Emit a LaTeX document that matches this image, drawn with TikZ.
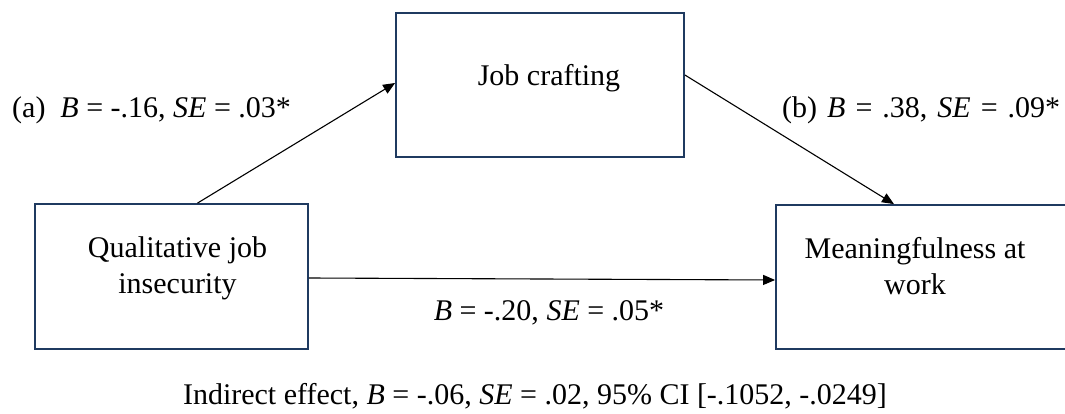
\documentclass[tikz,border=0pt]{standalone}
\usepackage{fontspec}
\setmainfont{Liberation Serif}
\usetikzlibrary{arrows.meta}
\definecolor{boxblue}{HTML}{1F3A60}

\begin{document}
\begin{tikzpicture}[x=1pt, y=-1pt, >={Triangle[length=12pt,width=10pt]},
  box/.style={draw=boxblue, line width=1.8pt, inner sep=0pt},
  boxtext/.style={inner sep=0pt, align=center, font=\fontsize{30}{36}\selectfont},
  coef/.style={inner sep=0pt, font=\fontsize{30}{36}\selectfont}]
  \useasboundingbox (0,0) rectangle (1065,414);
  \clip (0,0) rectangle (1065,414);
  % variables
  \node[box, minimum width=288pt, minimum height=144pt,
    label={[boxtext, xshift=9pt, yshift=7pt]center:Job crafting}] (jc) at (540,85) {};
  \node[box, minimum width=273pt, minimum height=145pt,
    label={[boxtext, xshift=6pt, yshift=8pt]center:{Qualitative job\\insecurity}}] (qji) at (171.5,276.5) {};
  \node[box, minimum width=300pt, minimum height=144pt,
    label={[boxtext, xshift=-11pt, yshift=11pt]center:{Meaningfulness at\\work}}] (maw) at (926,277) {};
  % paths a, b and c'
  \draw[->, line width=1.1pt] ([xshift=26pt]qji.north) -- ([yshift=2pt]jc.west);
  \draw[->, line width=1.1pt] ([yshift=10pt]jc.east) -- ([xshift=-32pt]maw.north);
  \draw[->, line width=1.1pt] ([yshift=-1.5pt]qji.east) -- ([yshift=-3pt]maw.west);
  % coefficients
  \node[coef, anchor=base west] (coefa) at (12,118) {(a)\ \ \textit{B} = -.16, \textit{SE} = .03*};
  \node[coef, anchor=base west] (coefb) at (782,118) {\spaceskip=10pt (b) \textit{B} = .38, \textit{SE} = .09*};
  \node[coef, anchor=base] (coefc) at (549,320) {\textit{B} = -.20, \textit{SE} = .05*};
  \node[coef, anchor=base] (indirect) at (535,404) {Indirect effect, \textit{B} = -.06, \textit{SE} = .02, 95\% CI [-.1052, -.0249]};
\end{tikzpicture}
\end{document}
